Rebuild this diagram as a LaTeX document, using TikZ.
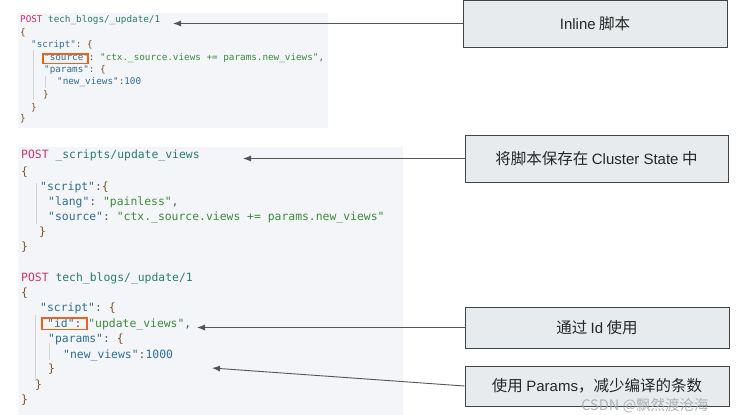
\documentclass[tikz,border=0pt]{standalone}
\usepackage{fontspec}
\setmonofont{DejaVu Sans Mono}
\newfontfamily\cjk{Noto Sans CJK SC}
\newfontfamily\latf{Liberation Sans}
\usetikzlibrary{arrows.meta}
\definecolor{cpost}{HTML}{D0336A}
\definecolor{curl}{HTML}{2A7B6E}
\definecolor{ckey}{HTML}{2E6E90}
\definecolor{cstr}{HTML}{3A8B3A}
\definecolor{cnum}{HTML}{2B6FA0}
\definecolor{cbrace}{HTML}{7A5222}
\definecolor{cpunc}{HTML}{555555}
\definecolor{panelbg}{HTML}{F4F5F9}
\definecolor{boxfill}{HTML}{E8EBEE}
\definecolor{boxline}{HTML}{444444}
\definecolor{hlc}{HTML}{E8641C}
\definecolor{guide}{HTML}{D2D4D8}
\definecolor{arrowc}{HTML}{555555}
\newcommand\jkey[1]{\textcolor{ckey}{"#1"}}
\newcommand\jstr[1]{\textcolor{cstr}{#1}}
\newcommand\jnum[1]{\textcolor{cnum}{#1}}
\newcommand\jbr[1]{\textcolor{cbrace}{#1}}
\newcommand\jp[1]{\textcolor{cpunc}{#1}}
\newcommand\jpost{\textcolor{cpost}{POST}}
\newcommand\jurl[1]{\textcolor{curl}{#1}}
\newcommand\lt[1]{{\latf\fontsize{15}{18}\selectfont #1}}
\begin{document}
\begin{tikzpicture}[x=1pt,y=-1pt,
  codeA/.style={anchor=west,inner sep=0pt,font=\ttfamily\fontsize{9.3}{11}\selectfont,text height=0.75em,text depth=0.05em},
  codeB/.style={anchor=west,inner sep=0pt,font=\ttfamily\fontsize{11.4}{13}\selectfont,text height=0.75em,text depth=0.05em},
  notebox/.style={draw=boxline,line width=1pt,fill=boxfill,inner sep=0pt,font=\cjk\fontsize{15.5}{18}\selectfont,text=black!85},
  pointer/.style={draw=arrowc,line width=0.9pt,-{Latex[length=8pt,width=6pt]}},
  hlbox/.style={draw=hlc,line width=1.8pt},
  guideline/.style={draw=guide,line width=0.8pt}]
\useasboundingbox (0,0) rectangle (745,415);
% panels
\fill[panelbg] (18,13) rectangle (328,128);
\fill[panelbg] (18,147) rectangle (403,415);
% indent guides
\draw[guideline] (33,50) -- (33,100);
\draw[guideline] (45,76) -- (45,88);
\draw[guideline] (36,183) -- (36,224);
\draw[guideline] (35,315) -- (35,381);
\draw[guideline] (49,343) -- (49,360);
% panel 1
\node[codeA] (p1l1) at (20,19) {\jpost\ \jurl{tech\_blogs/\_update/1}};
\node[codeA] (p1l2) at (20,32) {\jbr{\{}};
\node[codeA] (p1l3) at (31,44) {\jkey{script}\jp{: }\jbr{\{}};
\node[codeA] (p1l4) at (44,57) {\jkey{source}\jp{: }\jstr{"ctx.\_source.views += params.new\_views"}\jp{,}};
\node[codeA] (p1l5) at (44,69) {\jkey{params}\jp{: }\jbr{\{}};
\node[codeA] (p1l6) at (57,81) {\jkey{new\_views}\jp{:}\jnum{100}};
\node[codeA] (p1l7) at (43,94) {\jbr{\}}};
\node[codeA] (p1l8) at (31,107) {\jbr{\}}};
\node[codeA] (p1l9) at (20,118) {\jbr{\}}};
\draw[hlbox] (43,54) rectangle (88,63.5);
% panel 2
\node[codeB] (p2l1) at (21,155) {\jpost\ \jurl{\_scripts/update\_views}};
\node[codeB] (p2l2) at (21,172) {\jbr{\{}};
\node[codeB] (p2l3) at (40,187) {\jkey{script}\jp{:}\jbr{\{}};
\node[codeB] (p2l4) at (48,202) {\jkey{lang}\jp{: }\jstr{"painless"}\jp{,}};
\node[codeB] (p2l5) at (48,217) {\jkey{source}\jp{: }\jstr{"ctx.\_source.views += params.new\_views"}};
\node[codeB] (p2l6) at (39,232) {\jbr{\}}};
\node[codeB] (p2l7) at (21,247) {\jbr{\}}};
% panel 3
\node[codeB] (p3l1) at (21,278) {\jpost\ \jurl{tech\_blogs/\_update/1}};
\node[codeB] (p3l2) at (21,293) {\jbr{\{}};
\node[codeB] (p3l3) at (40,308) {\jkey{script}\jp{: }\jbr{\{}};
\node[codeB] (p3l4) at (47,324) {\jkey{id}\jp{: }\jstr{"update\_views"}\jp{,}};
\node[codeB] (p3l5) at (48,339) {\jkey{params}\jp{: }\jbr{\{}};
\node[codeB] (p3l6) at (63,355) {\jkey{new\_views}\jp{:}\jnum{1000}};
\node[codeB] (p3l7) at (48,369) {\jbr{\}}};
\node[codeB] (p3l8) at (35,385) {\jbr{\}}};
\node[codeB] (p3l9) at (21,400) {\jbr{\}}};
\draw[hlbox] (42,318) rectangle (87,329.5);
% note boxes
\node[notebox,minimum width=264pt,minimum height=47pt] (b1) at (595,23.5) {\lt{Inline} 脚本};
\node[notebox,minimum width=263pt,minimum height=47pt] (b2) at (596.5,158.5) {将脚本保存在 \lt{Cluster State} 中};
\node[notebox,minimum width=264pt,minimum height=41pt] (b3) at (597,327.5) {通过 \lt{Id} 使用};
\node[notebox,minimum width=264pt,minimum height=40pt] (b4) at (597,386) {使用 \lt{Params}，减少编译的条数};
% arrow targets
\coordinate (a1) at (173,23.5);
\coordinate (a2) at (243,158.5);
\coordinate (a3) at (197,327.5);
\coordinate (a4) at (212,368);
\draw[pointer] (b1.west) -- (a1);
\draw[pointer] (b2.west) -- (a2);
\draw[pointer] (b3.west) -- (a3);
\draw[pointer] (b4.west) -- (a4);
% watermark
\node[font=\cjk\fontsize{14.5}{16}\selectfont,text=gray!70,opacity=0.85,inner sep=0pt] (wm) at (645,406) {CSDN @飘然渡沧海};
\end{tikzpicture}
\end{document}
